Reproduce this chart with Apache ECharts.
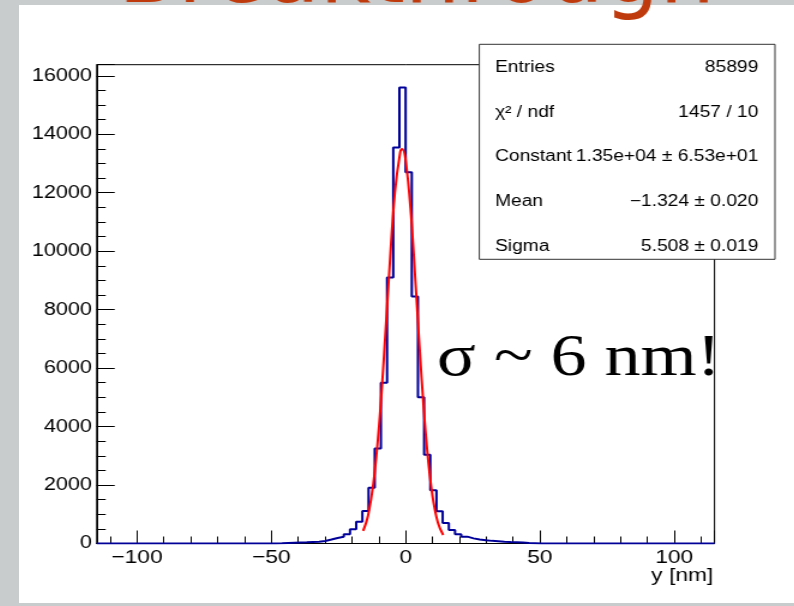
<!DOCTYPE html>
<html>
<head>
<meta charset="UTF-8">
<title>y resolution</title>
<script src="https://cdn.jsdelivr.net/npm/echarts@6/dist/echarts.min.js"></script>
<style>
html, body { margin:0; padding:0; width:794px; height:606px; overflow:hidden; background:#c9cccd; }
#panel { position:absolute; left:19px; top:5px; width:775px; height:598px; background:#fff; }
/* the original picture is stretched sideways, so the chart is too */
#main { position:absolute; left:19px; top:0; width:646px; height:603px; transform:scaleX(1.2); transform-origin:0 0; }
</style>
</head>
<body>
<div id="panel"></div>
<div id="main"></div>
<script>
// binning of the histogram
var binLow = -115;
var binWidth = 2.3;
// counts per bin (100 bins from -115 to 115)
var counts = [
    0, 0, 0, 0, 0, 0, 0, 0, 0, 0,
    0, 0, 0, 0, 0, 0, 0, 0, 0, 0,
    0, 0, 0, 0, 0, 0, 0, 0, 0, 5,
    15, 25, 35, 40, 50, 60, 85, 135, 190, 230,
    320, 490, 740, 1110, 1910, 3250, 5500, 9100, 13550, 15600,
    12700, 8450, 5000, 3040, 1820, 1100, 700, 460, 315, 235,
    175, 135, 110, 90, 75, 60, 50, 45, 35, 20,
    10, 0, 0, 0, 0, 0, 0, 0, 0, 0,
    0, 0, 0, 0, 0, 0, 0, 0, 0, 0,
    0, 0, 0, 0, 0, 0, 0, 0, 0, 0
];
// red fit curve
var fitX = [-15.8, -14, -12, -10, -8, -6, -4, -2, -1.3, 0, 2, 4, 6, 8, 10, 12, 14];
var fitY = [430, 950, 2060, 3900, 6480, 9420, 12000, 13400, 13500, 13120, 11250, 8460, 5580, 3220, 1630, 720, 290];
// stat box
var statLabels = ['Entries', '\u03c7\u00b2 / ndf', 'Constant', 'Mean', 'Sigma'];
var statValues = ['85899', '1457 / 10', '1.35e+04 \u00b1 6.53e+01', '\u22121.324 \u00b1 0.020', '5.508 \u00b1 0.019'];

var xMin = -115, xMax = 115, yMax = 16380;

// histogram outline as steps
var histLine = [];
var prev = 0;
for (var i = 0; i < counts.length; i++) {
    var edge = +(binLow + i * binWidth).toFixed(2);
    histLine.push([edge, prev], [edge, counts[i]]);
    prev = counts[i];
}
var lastEdge = +(binLow + counts.length * binWidth).toFixed(2);
histLine.push([lastEdge, prev], [lastEdge, 0]);

var fitLine = [];
for (var j = 0; j < fitX.length; j++) {
    fitLine.push([fitX[j], fitY[j]]);
}

var font = 'Liberation Sans';

// stat box texts
var statGraphics = [{
    type: 'rect',
    shape: { x: 383.6, y: 44.3, width: 246.4, height: 215 },
    style: { fill: '#fff', stroke: '#333', lineWidth: 1 },
    z: 100
}];
for (var k = 0; k < statLabels.length; k++) {
    var ty = 67.4 + k * 44.7;
    statGraphics.push({
        type: 'text', x: 396.7, y: ty, z: 101,
        style: { text: statLabels[k], fill: '#000', font: '16px ' + font, align: 'left', verticalAlign: 'middle' }
    });
    statGraphics.push({
        type: 'text', x: 616.1, y: ty, z: 101,
        style: { text: statValues[k], fill: '#000', font: '16px ' + font, align: 'right', verticalAlign: 'middle' }
    });
}

var chart = echarts.init(document.getElementById('main'));
chart.setOption({
    animation: false,
    grid: {
        left: 64.75,
        right: 66.4,
        top: 64.7,
        bottom: 59.5,
        show: true,
        borderColor: '#000',
        borderWidth: 1,
        backgroundColor: 'transparent'
    },
    xAxis: [
        {   // major ticks and labels
            type: 'value', position: 'bottom',
            min: xMin, max: xMax, splitNumber: 5,
            axisLine: { show: true, onZero: false, lineStyle: { color: '#000', width: 1 } },
            axisTick: { inside: true, length: 13, lineStyle: { color: '#000' } },
            splitLine: { show: false },
            axisLabel: {
                color: '#000', fontFamily: font, fontSize: 19, margin: 5,
                formatter: function (v) {
                    if (v === xMin || v === xMax) return '';
                    return String(v).replace('-', '\u2212');
                }
            }
        },
        {   // minor ticks
            type: 'value', position: 'bottom',
            min: xMin, max: xMax, splitNumber: 23,
            axisLine: { show: false, onZero: false },
            axisTick: { inside: true, length: 7, lineStyle: { color: '#000' } },
            splitLine: { show: false },
            axisLabel: { show: false }
        }
    ],
    yAxis: [
        {
            type: 'value', position: 'left',
            min: 0, max: yMax, interval: 2000,
            axisLine: { show: true, onZero: false, lineStyle: { color: '#000', width: 1 } },
            axisTick: { inside: true, length: 15, lineStyle: { color: '#000' } },
            splitLine: { show: false },
            axisLabel: {
                color: '#000', fontFamily: font, fontSize: 18, margin: 4,
                formatter: function (v) { return v % 2000 === 0 ? String(v) : ''; }
            }
        },
        {
            type: 'value', position: 'left',
            min: 0, max: yMax, interval: 500,
            axisLine: { show: false, onZero: false },
            axisTick: { inside: true, length: 7.5, lineStyle: { color: '#000' } },
            splitLine: { show: false },
            axisLabel: { show: false }
        }
    ],
    series: [
        {
            name: 'hist',
            type: 'line',
            xAxisIndex: 0, yAxisIndex: 0,
            data: histLine,
            symbol: 'none',
            lineStyle: { color: '#000099', width: 2 },
            z: 2
        },
        {
            name: 'fit',
            type: 'line',
            xAxisIndex: 0, yAxisIndex: 0,
            data: fitLine,
            symbol: 'none',
            smooth: 0.4,
            lineStyle: { color: '#ff0000', width: 2 },
            z: 3
        }
    ],
    graphic: statGraphics.concat([
        {   // x axis title
            type: 'text', x: 578.6, y: 576, z: 102,
            style: { text: 'y [nm]', fill: '#000', font: '19px ' + font, align: 'right', verticalAlign: 'middle' }
        },
        {
            type: 'text', x: 348.3, y: 359.7, z: 102,
            style: { text: '\u03c3 ~ 6 nm!', fill: '#000', font: '60px "Liberation Serif"', align: 'left', verticalAlign: 'middle' }
        },
        {
            type: 'text', x: 331.2, y: -21, scaleX: 0.83, z: 102,
            style: { text: 'Breakthrough', fill: '#bf3a0c', font: '88px "DejaVu Sans"', align: 'center', verticalAlign: 'middle' }
        }
    ])
});
</script>
</body>
</html>
